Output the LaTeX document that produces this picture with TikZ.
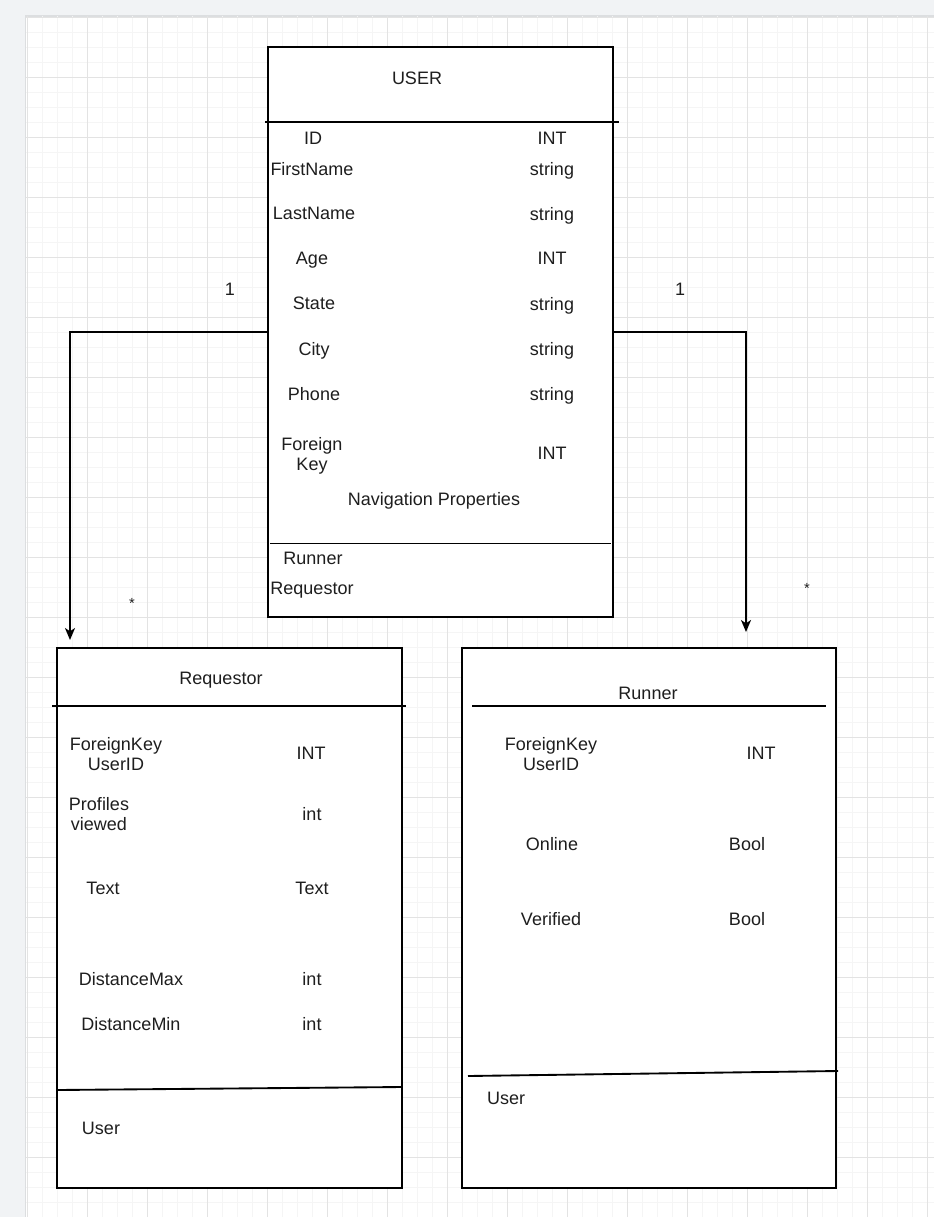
\documentclass[tikz,border=0pt]{standalone}
\usepackage{fontspec}
\setmainfont{Liberation Sans}
\usetikzlibrary{arrows.meta}

\definecolor{pagebg}{HTML}{F1F3F5}
\definecolor{canvasedge}{HTML}{DCDEE0}
\definecolor{gridminor}{HTML}{F5F5F5}
\definecolor{gridmajor}{HTML}{E3E3E3}
\definecolor{ink}{HTML}{1E1E1E}

\begin{document}
\begin{tikzpicture}[x=0.75pt,y=-0.75pt,
  entity/.style={draw=black, line width=1.4pt, fill=white, inner sep=0pt, outer sep=0pt},
  boxsize/.style 2 args={minimum width=#1*0.75pt, minimum height=#2*0.75pt},
  lbl/.style={font=\fontsize{13.5}{15}\selectfont, text=ink, align=center,
              inner sep=0pt, text depth=0pt},
  mult/.style={font=\fontsize{13.5}{15}\selectfont, text=ink, inner sep=0pt, text depth=0pt},
  star/.style={font=\fontsize{11}{12}\selectfont, text=ink, inner sep=0pt, anchor=base},
  rule/.style={line width=1.4pt, black},
  link/.style={line width=1.4pt, black, -{Stealth[length=9pt,width=7.5pt,inset=2.5pt]}},
]
% page and canvas
\useasboundingbox (0,0) rectangle (934,1217);
\fill[pagebg] (0,0) rectangle (934,1217);
\fill[canvasedge] (25,15) rectangle (934,1217);
\fill[white] (26,16.5) rectangle (934,1217);

% drawing grid: minor every 15, major every 60
\begin{scope}
  \clip (26,16.5) rectangle (934,1217);
  \foreach \k in {0,...,60} {
    \draw[gridminor, line width=0.7pt] ({27+15*\k},16) -- ({27+15*\k},1217);
  }
  \foreach \k in {0,...,80} {
    \draw[gridminor, line width=0.7pt] (26,{17+15*\k}) -- (934,{17+15*\k});
  }
  \foreach \k in {0,...,15} {
    \draw[gridmajor, line width=0.75pt] ({27+60*\k},16) -- ({27+60*\k},1217);
  }
  \foreach \k in {0,...,20} {
    \draw[gridmajor, line width=0.75pt] (26,{17+60*\k}) -- (934,{17+60*\k});
  }
\end{scope}

% entity boxes
\node[entity, boxsize={345}{570}] (user) at (440.5,332) {};
\node[entity, boxsize={345}{540}] (req)  at (229.5,918) {};
\node[entity, boxsize={374}{540}] (run)  at (649,918) {};

% compartment rules
\draw[rule] (265,122) -- (619,122);
\draw[rule] (270,543.5) -- (611,543.5);
\draw[rule] (52,706) -- (406,706);
\draw[rule] (57,1090) -- (402,1087);
\draw[rule] (472,706) -- (826,706);
\draw[rule] (468,1076) -- (838,1071);

% USER
\node[lbl] (userTitle) at (417,78.5) {USER};
\node[lbl] (uIdN)  at (313,138.5) {ID};        \node[lbl] (uIdT)  at (552,138.5) {INT};
\node[lbl] (uFnN)  at (312,168.5) {FirstName}; \node[lbl] (uFnT)  at (552,168.5) {string};
\node[lbl] (uLnN)  at (314,213.5) {LastName};  \node[lbl] (uLnT)  at (552,213.5) {string};
\node[lbl] (uAgN)  at (312,258.5) {Age};       \node[lbl] (uAgT)  at (552,258.5) {INT};
\node[lbl] (uStN)  at (314,303.5) {State};     \node[lbl] (uStT)  at (552,303.5) {string};
\node[lbl] (uCiN)  at (314,348.5) {City};      \node[lbl] (uCiT)  at (552,348.5) {string};
\node[lbl] (uPhN)  at (314,393.5) {Phone};     \node[lbl] (uPhT)  at (552,393.5) {string};
\node[lbl] (uFkN)  at (312,453.5) {Foreign\\Key}; \node[lbl] (uFkT) at (552,453.5) {INT};
\node[lbl] (uNav)  at (434,498.5) {Navigation Properties};
\node[lbl] (uRun)  at (313,558.5) {Runner};
\node[lbl] (uReq)  at (312,588.5) {Requestor};

% Requestor
\node[lbl] (reqTitle) at (221,678.5) {Requestor};
\node[lbl] (rFkN) at (116,753.5) {ForeignKey\\UserID}; \node[lbl] (rFkT) at (311,753.5) {INT};
\node[lbl] (rPvN) at (99,813.5) {Profiles\\viewed};    \node[lbl] (rPvT) at (312,813.5) {int};
\node[lbl] (rTxN) at (103,888.5) {Text};               \node[lbl] (rTxT) at (312,888.5) {Text};
\node[lbl] (rDxN) at (131,978.5) {DistanceMax};        \node[lbl] (rDxT) at (312,978.5) {int};
\node[lbl] (rDnN) at (131,1023.5) {DistanceMin};       \node[lbl] (rDnT) at (312,1023.5) {int};
\node[lbl] (rUsr) at (101,1128.5) {User};

% Runner
\node[lbl] (runTitle) at (648,693.5) {Runner};
\node[lbl] (nFkN) at (551,753.5) {ForeignKey\\UserID}; \node[lbl] (nFkT) at (761,753.5) {INT};
\node[lbl] (nOnN) at (552,843.5) {Online};             \node[lbl] (nOnT) at (747,843.5) {Bool};
\node[lbl] (nVeN) at (551,918.5) {Verified};           \node[lbl] (nVeT) at (747,918.5) {Bool};
\node[lbl] (nUsr) at (506,1098.5) {User};

% associations
\coordinate (reqIn) at (70,640);
\coordinate (runIn) at (746,632);
\draw[link] (user.west) -| (reqIn);
\draw[link] (user.east) -| (runIn);

% multiplicities
\node[mult] (m1l) at (230,289.5) {1};
\node[mult] (m1r) at (680,289.5) {1};
\node[star] (msl) at (132,608) {*};
\node[star] (msr) at (807,593) {*};
\end{tikzpicture}
\end{document}
